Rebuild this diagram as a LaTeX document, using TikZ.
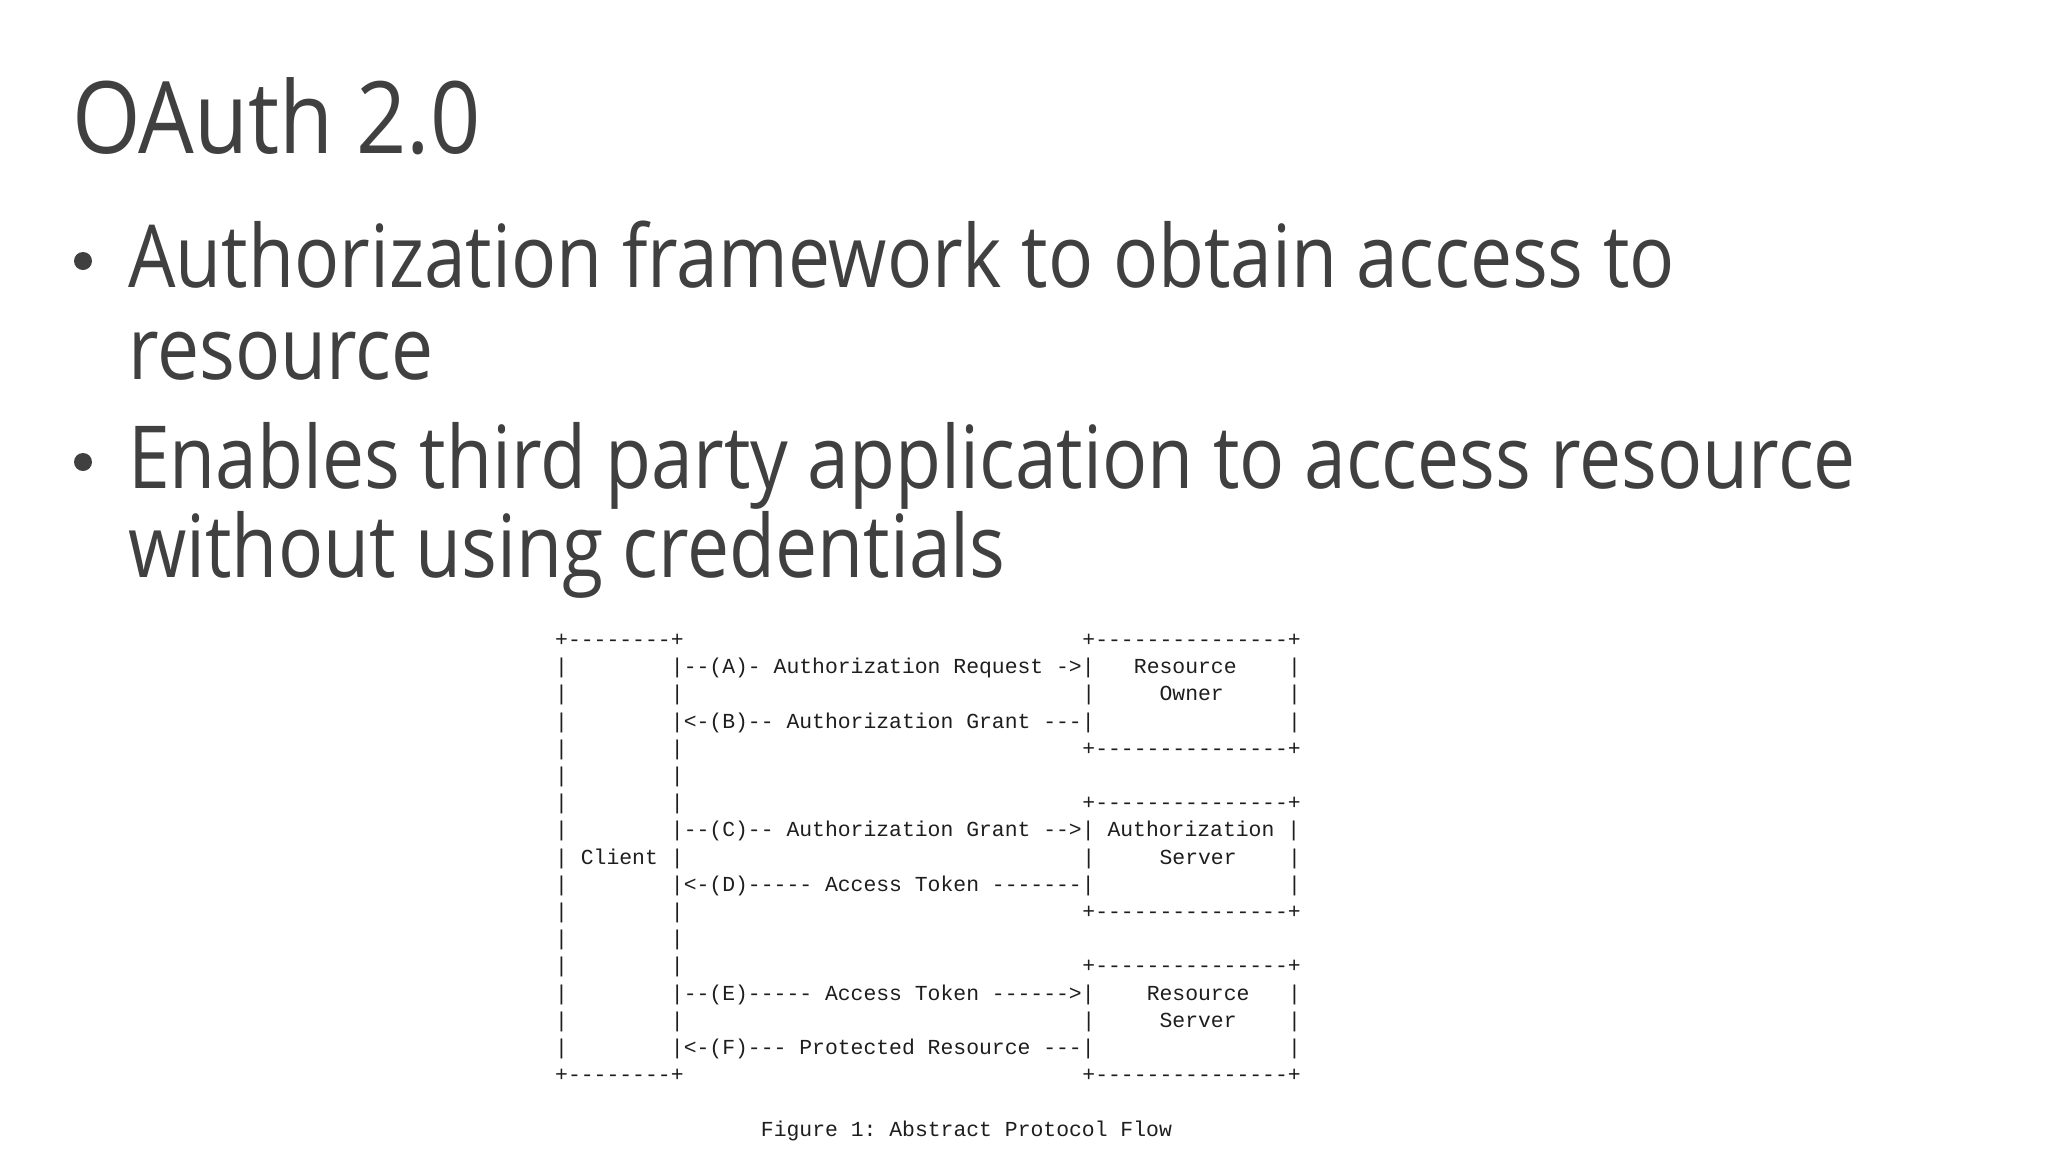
\documentclass[tikz,border=0pt]{standalone}
\usepackage{fontspec}
\setmainfont{Open Sans}
\setmonofont{Liberation Mono}
\newfontfamily\titlefont[FakeStretch=0.88]{Open Sans}
\newfontfamily\bulletfont[FakeStretch=0.862]{Open Sans}
\definecolor{slidetext}{HTML}{404040}
\definecolor{asciitext}{HTML}{1E1E1E}
\tikzset{
  slidetitle/.style={anchor=base west, inner sep=0pt, text=slidetext, font=\titlefont\fontsize{100}{120}\selectfont},
  bullettext/.style={anchor=base west, inner sep=0pt, text=slidetext, font=\bulletfont\fontsize{87}{100}\selectfont},
  bulletdot/.style={circle, fill=slidetext, inner sep=0pt, minimum size=18pt},
  asc/.style={anchor=base west, inner sep=0pt, text=asciitext, font=\ttfamily\fontsize{21.4}{25}\selectfont},
}
\newcommand\ascat[4]{\node[asc] (#1) at ({555+#2*12.86},{646.5+#3*27.2}) {#4};}
\begin{document}
\begin{tikzpicture}[x=1pt,y=-1pt]
\useasboundingbox[fill=white] (0,0) rectangle (2048,1152);
% title and bullets
\node[slidetitle] (title) at (72,153) {OAuth 2.0};
\node[bulletdot] (dot1) at (83,261) {};
\node[bullettext] (b1a) at (128,287) {Authorization framework to obtain access to};
\node[bullettext] (b1b) at (128,379) {resource};
\node[bulletdot] (dot2) at (83,462) {};
\node[bullettext] (b2a) at (128,488) {Enables third party application to access resource};
\node[bullettext] (b2b) at (128,577) {without using credentials};
% ASCII figure
\ascat{r0a}{0}{0}{+--------+}
\ascat{r0b}{41}{0}{+---------------+}
\ascat{r1a}{0}{1}{|}
\ascat{r1b}{9}{1}{|--(A)- Authorization Request ->|}
\ascat{r1c}{45}{1}{Resource}
\ascat{r1d}{57}{1}{|}
\ascat{r2a}{0}{2}{|}
\ascat{r2b}{9}{2}{|}
\ascat{r2c}{41}{2}{|}
\ascat{r2d}{47}{2}{Owner}
\ascat{r2e}{57}{2}{|}
\ascat{r3a}{0}{3}{|}
\ascat{r3b}{9}{3}{|<-(B)-- Authorization Grant ---|}
\ascat{r3c}{57}{3}{|}
\ascat{r4a}{0}{4}{|}
\ascat{r4b}{9}{4}{|}
\ascat{r4c}{41}{4}{+---------------+}
\ascat{r5a}{0}{5}{|}
\ascat{r5b}{9}{5}{|}
\ascat{r6a}{0}{6}{|}
\ascat{r6b}{9}{6}{|}
\ascat{r6c}{41}{6}{+---------------+}
\ascat{r7a}{0}{7}{|}
\ascat{r7b}{9}{7}{|--(C)-- Authorization Grant -->| Authorization |}
\ascat{r8a}{0}{8}{| Client |}
\ascat{r8b}{41}{8}{|}
\ascat{r8c}{47}{8}{Server}
\ascat{r8d}{57}{8}{|}
\ascat{r9a}{0}{9}{|}
\ascat{r9b}{9}{9}{|<-(D)----- Access Token -------|}
\ascat{r9c}{57}{9}{|}
\ascat{r10a}{0}{10}{|}
\ascat{r10b}{9}{10}{|}
\ascat{r10c}{41}{10}{+---------------+}
\ascat{r11a}{0}{11}{|}
\ascat{r11b}{9}{11}{|}
\ascat{r12a}{0}{12}{|}
\ascat{r12b}{9}{12}{|}
\ascat{r12c}{41}{12}{+---------------+}
\ascat{r13a}{0}{13}{|}
\ascat{r13b}{9}{13}{|--(E)----- Access Token ------>|}
\ascat{r13c}{46}{13}{Resource}
\ascat{r13d}{57}{13}{|}
\ascat{r14a}{0}{14}{|}
\ascat{r14b}{9}{14}{|}
\ascat{r14c}{41}{14}{|}
\ascat{r14d}{47}{14}{Server}
\ascat{r14e}{57}{14}{|}
\ascat{r15a}{0}{15}{|}
\ascat{r15b}{9}{15}{|<-(F)--- Protected Resource ---|}
\ascat{r15c}{57}{15}{|}
\ascat{r16a}{0}{16}{+--------+}
\ascat{r16b}{41}{16}{+---------------+}
\ascat{caption}{16}{18}{Figure 1: Abstract Protocol Flow}
\end{tikzpicture}
\end{document}
